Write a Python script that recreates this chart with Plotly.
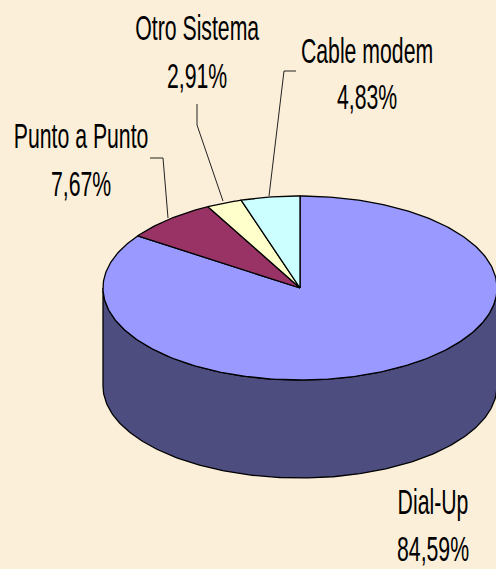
import numpy as np
import plotly.graph_objects as go

categories = ["Dial-Up", "Punto a Punto", "Otro Sistema", "Cable modem"]
values = [84.59, 7.67, 2.91, 4.83]
value_labels = ["84,59%", "7,67%", "2,91%", "4,83%"]
colors = ["#9999FF", "#993366", "#FFFFCC", "#CCFFFF"]
wall_color = "#4D4D80"

W, H = 496, 569
CX, CY, RX, RY, DEPTH = 300, 288, 197, 92, 98
BG = "#FBEFD9"
FONT = "Liberation Sans"
SIZE = 36
X_SQUEEZE = 0.59
EDGE = 1.3

def pt(theta):
    return CX + RX * np.sin(theta), CY - RY * np.cos(theta)

fig = go.Figure()

# side wall: the visible front half of the cylinder (belongs to the large slice)
t = np.linspace(np.pi / 2, 3 * np.pi / 2, 200)
xf, yf = pt(t)
fig.add_trace(go.Scatter(
    x=np.r_[xf, xf[::-1], xf[0]], y=np.r_[yf, yf[::-1] + DEPTH, yf[0]],
    mode="lines", fill="toself", fillcolor=wall_color,
    line=dict(color="black", width=EDGE), hoverinfo="skip", showlegend=False))

# top face: slices run clockwise from twelve o'clock
cum = np.cumsum([0] + values) / sum(values) * 2 * np.pi
for i, name in enumerate(categories):
    a = np.linspace(cum[i], cum[i + 1], max(4, int((cum[i + 1] - cum[i]) * 60)))
    x, y = pt(a)
    fig.add_trace(go.Scatter(
        x=np.r_[CX, x, CX], y=np.r_[CY, y, CY], mode="lines", fill="toself",
        fillcolor=colors[i], line=dict(color="black", width=EDGE),
        name=name, showlegend=False,
        hovertemplate=f"{name}<br>{value_labels[i]}<extra></extra>"))

# label anchor (centre x, two line y positions) and leader-line paths
label_pos = {
    "Dial-Up": (433, 501, 548),
    "Punto a Punto": (81, 135, 183),
    "Otro Sistema": (197, 27, 75),
    "Cable modem": (367, 50, 96),
}
leaders = [
    ([150, 163, 168], [158, 158, 218]),
    ([197, 197, 223], [104, 125, 201]),
    ([296, 284, 269], [71, 71, 196]),
]
for lx, ly in leaders:
    fig.add_trace(go.Scatter(x=lx, y=ly, mode="lines",
                             line=dict(color="#222222", width=1),
                             hoverinfo="skip", showlegend=False))

for name, lab in zip(categories, value_labels):
    x, y1, y2 = label_pos[name]
    for yy, s in zip((y1, y2), (name, lab)):
        fig.add_annotation(x=x, y=yy, text=s, showarrow=False,
                           xanchor="center", yanchor="middle",
                           font=dict(family=FONT, size=SIZE, color="black"))

fig.update_layout(
    width=W, height=H, autosize=False,
    margin=dict(l=0, r=0, t=0, b=0),
    paper_bgcolor=BG, plot_bgcolor=BG,
    xaxis=dict(range=[0, W], visible=False, fixedrange=True),
    yaxis=dict(range=[H, 0], visible=False, fixedrange=True),
)

# condensed lettering: squeeze each label horizontally about its own centre
squeeze_js = """
var gd = document.getElementById('{plot_id}');
gd.querySelectorAll('text.annotation-text').forEach(function (el) {
  var b = el.getBBox();
  var cx = b.x + b.width / 2;
  el.setAttribute('transform', 'translate(' + cx + ',0) scale(%s,1) translate(' + (-cx) + ',0)');
});
""" % X_SQUEEZE

fig.write_html("out.html", config={"displayModeBar": False},
               default_width=f"{W}px", default_height=f"{H}px",
               post_script=squeeze_js)

# remove page margin so the figure fills the window
html = open("out.html", encoding="utf-8").read()
html = html.replace("<head>", "<head><style>html,body{margin:0;padding:0;overflow:hidden}</style>", 1)
open("out.html", "w", encoding="utf-8").write(html)
